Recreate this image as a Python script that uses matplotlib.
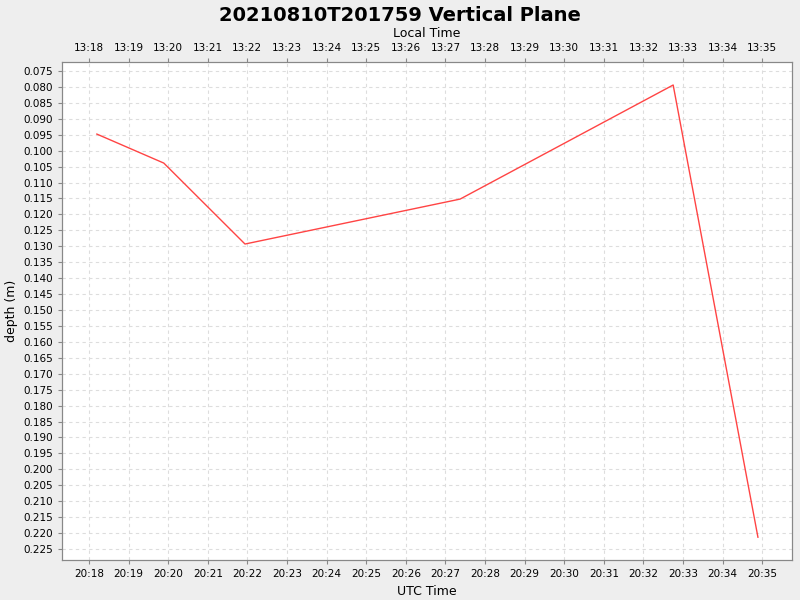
import matplotlib
matplotlib.use("Agg")
import matplotlib.pyplot as plt
import matplotlib.dates as mdates
import numpy as np
from datetime import datetime, timedelta

# sample times as minutes after 20:00 UTC
minutes = [18.2, 19.89, 21.94, 27.37, 32.75, 34.89]
depth = [0.0948, 0.1039, 0.1293, 0.1152, 0.0794, 0.2213]

base = datetime(2021, 8, 10, 20, 0)
times = [base + timedelta(minutes=m) for m in minutes]

fig = plt.figure(figsize=(8, 6), dpi=100, facecolor="#eeeeee")
ax = fig.add_axes([62/800, 40/600, 730/800, 498/600])
ax.set_facecolor("white")
ax.plot(times, depth, color="#ff4444", linewidth=1)

ax.set_xlim(base + timedelta(minutes=17.32), base + timedelta(minutes=35.75))
ax.set_ylim(0.22845, 0.07218)
ax.set_yticks(np.arange(0.075, 0.2251, 0.005))
ax.yaxis.set_major_formatter(plt.FormatStrFormatter("%.3f"))
ax.xaxis.set_major_locator(mdates.MinuteLocator())
ax.xaxis.set_major_formatter(mdates.DateFormatter("%H:%M"))
ax.grid(True, color="#dddddd", linestyle=(0, (3, 3)), linewidth=0.8)
ax.tick_params(labelsize=7.5, length=3, color="#888888")
for s in ax.spines.values():
    s.set_color("#888888")
ax.set_xlabel("UTC Time", fontsize=9)
ax.set_ylabel("depth (m)", fontsize=9)

top = ax.twiny()
top.set_xlim(ax.get_xlim())
top.xaxis.set_major_locator(mdates.MinuteLocator())
top.xaxis.set_major_formatter(plt.FuncFormatter(
    lambda v, p: (mdates.num2date(v) - timedelta(hours=7)).strftime("%H:%M")))
top.tick_params(labelsize=7.5, length=3, color="#888888")
top.set_xlabel("Local Time", fontsize=9)
for s in top.spines.values():
    s.set_color("#888888")

fig.suptitle("20210810T201759 Vertical Plane", fontsize=14, fontweight="bold", y=0.99)
fig.savefig("out.png", dpi=100, facecolor=fig.get_facecolor())
